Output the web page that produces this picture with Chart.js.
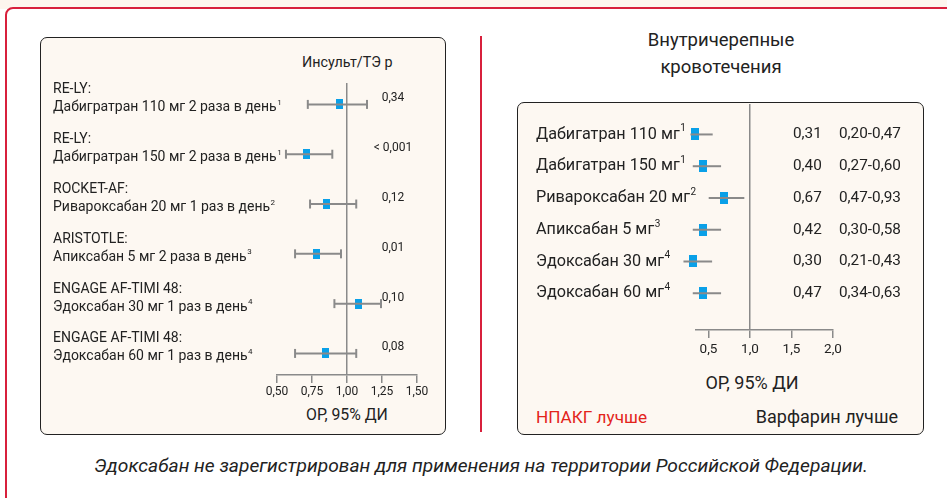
<!DOCTYPE html>
<html><head><meta charset="utf-8">
<script src="https://cdn.jsdelivr.net/npm/chart.js@4.4.1/dist/chart.umd.min.js"></script>
<style>
html,body{margin:0;padding:0;}
body{width:947px;height:498px;position:relative;overflow:hidden;background:#fff;font-family:Roboto,"Liberation Sans",sans-serif;color:#222;}
.abs{position:absolute;}
.strip{left:0;top:0;width:947px;height:9px;background:#fdf6ee;}
.frame{left:5px;top:7px;width:980px;height:540px;border:2px solid #d8203c;border-radius:8px;background:#fff;box-sizing:border-box;}
.box{border:1.6px solid #222;border-radius:7px;background:#fdf8f2;box-sizing:border-box;}
.t{white-space:nowrap;line-height:20px;height:20px;}
canvas{position:absolute;left:0;top:0;}
</style></head>
<body>
<div class="abs strip"></div>
<div class="abs frame"></div>
<div class="abs box" style="left:40px;top:37px;width:406px;height:398px;"></div>
<div class="abs" style="left:480px;top:36px;width:2px;height:396px;background:#d8203c;"></div>
<div class="abs box" style="left:517px;top:102px;width:407px;height:333px;"></div>
<div class="abs t" style="left:621px;width:200px;top:30px;text-align:center;font-size:18.5px;">Внутричерепные</div>
<div class="abs t" style="left:621px;width:200px;top:57px;text-align:center;font-size:18.5px;">кровотечения</div>
<div class="abs t" style="left:302px;top:52px;font-size:14.3px;">Инсульт/ТЭ р</div>
<div class="abs t" style="left:247px;width:200px;top:405px;text-align:center;font-size:15.8px;">ОР, 95% ДИ</div>
<div class="abs t" style="left:652px;width:200px;top:373px;text-align:center;font-size:18px;">ОР, 95% ДИ</div>
<div class="abs t" style="left:536px;top:407px;font-size:17.2px;color:#e3241b;">НПАКГ лучше</div>
<div class="abs t" style="left:698px;width:200px;top:407px;text-align:right;font-size:18px;">Варфарин лучше</div>
<div class="abs t" style="left:0;width:962px;top:456px;text-align:center;font-size:19.2px;font-style:italic;">Эдоксабан не зарегистрирован для применения на территории Российской Федерации.</div>
<canvas id="cl" width="947" height="498"></canvas>
<canvas id="cr" width="947" height="498"></canvas>
<script>
// ---------- Data: left panel (stroke / systemic embolism) ----------
const leftStudies = ['RE-LY:', 'RE-LY:', 'ROCKET-AF:', 'ARISTOTLE:', 'ENGAGE AF-TIMI 48:', 'ENGAGE AF-TIMI 48:'];
const leftDrugs = ['Дабигратран 110 мг 2 раза в день', 'Дабигратран 150 мг 2 раза в день', 'Ривароксабан 20 мг 1 раз в день', 'Апиксабан 5 мг 2 раза в день', 'Эдоксабан 30 мг 1 раз в день', 'Эдоксабан 60 мг 1 раз в день'];
const leftRefs = ['1', '1', '2', '3', '4', '4'];
const leftEst = [0.945, 0.71, 0.852, 0.78, 1.08, 0.845];
const leftLo = [0.72, 0.564, 0.736, 0.629, 0.91, 0.629];
const leftHi = [1.143, 0.895, 1.066, 0.957, 1.243, 1.066];
const leftP = ['0,34', '< 0,001', '0,12', '0,01', '0,10', '0,08'];
const leftTicks = [0.5, 0.75, 1.0, 1.25, 1.5];
const leftTickLabels = ['0,50', '0,75', '1,00', '1,25', '1,50'];

// ---------- Data: right panel (intracranial bleeding) ----------
const rightDrugs = ['Дабигатран 110 мг', 'Дабигатран 150 мг', 'Ривароксабан 20 мг', 'Апиксабан 5 мг', 'Эдоксабан 30 мг', 'Эдоксабан 60 мг'];
const rightRefs = ['1', '1', '2', '3', '4', '4'];
const rightEst = [0.335, 0.439, 0.691, 0.439, 0.316, 0.439];
const rightLo = [0.283, 0.311, 0.503, 0.311, 0.199, 0.311];
const rightHi = [0.551, 0.652, 0.932, 0.652, 0.544, 0.652];
const rightOR = ['0,31', '0,40', '0,67', '0,42', '0,30', '0,47'];
const rightCI = ['0,20-0,47', '0,27-0,60', '0,47-0,93', '0,30-0,58', '0,21-0,43', '0,34-0,63'];
const rightTicks = [0.5, 1.0, 1.5, 2.0];
const rightTickLabels = ['0,5', '1,0', '1,5', '2,0'];

const FONT = 'Roboto';
const GRAY = '#8a8a8a';
const BLUE = '#0aa0e8';
const TXT = '#222';

function rectImg(w, h) {
  const c = document.createElement('canvas');
  c.width = w; c.height = h;
  const g = c.getContext('2d');
  g.fillStyle = BLUE; g.fillRect(0, 0, w, h);
  return c;
}

function buildDatasets(est, lo, hi, caps, img) {
  const ds = [];
  est.forEach((e, i) => {
    ds.push({ type: 'line', data: [{ x: lo[i], y: i }, { x: hi[i], y: i }], borderColor: GRAY, borderWidth: 2,
      pointRadius: 0, showLine: true, clip: false });
  });
  if (caps) {
    const cp = [];
    est.forEach((e, i) => { cp.push({ x: lo[i], y: i }); cp.push({ x: hi[i], y: i }); });
    ds.push({ type: 'scatter', data: cp, pointStyle: 'line', rotation: 90, pointRadius: 4.5,
      borderColor: GRAY, borderWidth: 2, backgroundColor: GRAY, clip: false });
  }
  ds.push({ type: 'scatter', data: est.map((e, i) => ({ x: e, y: i })), pointStyle: img, pointRadius: 5, clip: false });
  return ds;
}

function xScale(min, max, ticks, labels, fontSize, pad) {
  return {
    type: 'linear', min: min, max: max,
    afterBuildTicks: s => { s.ticks = ticks.map(v => ({ value: v })); },
    afterFit: s => { s.height = 40; },
    ticks: { callback: (v, i) => labels[i], font: { family: FONT, size: fontSize }, color: TXT, padding: pad,
      maxRotation: 0, autoSkip: false },
    grid: { color: c => (c.tick && c.tick.value === 1) ? GRAY : 'rgba(0,0,0,0)', tickColor: GRAY,
      tickLength: 8, lineWidth: 1.5, drawOnChartArea: true, drawTicks: true },
    border: { display: true, color: GRAY, width: 1.5 }
  };
}

function drawSup(ctx, text, sup, x, y, size, supSize) {
  ctx.font = size + 'px ' + FONT;
  ctx.fillText(text, x, y);
  const w = ctx.measureText(text).width;
  ctx.font = supSize + 'px ' + FONT;
  ctx.fillText(sup, x + w + 0.5, y - size * 0.35);
}

const leftText = {
  id: 'leftText',
  afterDraw(chart) {
    const ctx = chart.ctx, ys = chart.scales.y;
    ctx.save();
    ctx.fillStyle = TXT; ctx.textBaseline = 'middle'; ctx.textAlign = 'left';
    leftStudies.forEach((s, i) => {
      const y = ys.getPixelForValue(i);
      ctx.font = '14px ' + FONT;
      ctx.fillText(s, 53, y - 14.5);
      drawSup(ctx, leftDrugs[i], leftRefs[i], 53, y + 3.5, 14, 8);
      ctx.font = '12px ' + FONT;
      ctx.textAlign = 'center';
      ctx.fillText(leftP[i], 393, y - 6);
      ctx.textAlign = 'left';
    });
    ctx.restore();
  }
};

const rightText = {
  id: 'rightText',
  afterDraw(chart) {
    const ctx = chart.ctx, ys = chart.scales.y;
    ctx.save();
    ctx.fillStyle = TXT; ctx.textBaseline = 'middle'; ctx.textAlign = 'left';
    rightDrugs.forEach((s, i) => {
      const y = ys.getPixelForValue(i);
      drawSup(ctx, s, rightRefs[i], 536, y, 16.2, 10);
      ctx.font = '15.3px ' + FONT;
      ctx.fillText(rightOR[i], 793, y);
      ctx.fillText(rightCI[i], 839, y);
    });
    ctx.restore();
  }
};

const common = {
  responsive: false, animation: false, events: [],
  plugins: { legend: { display: false }, tooltip: { enabled: false } }
};

new Chart(document.getElementById('cl'), {
  type: 'scatter',
  data: { datasets: buildDatasets(leftEst, leftLo, leftHi, true, rectImg(7, 10)) },
  options: Object.assign({}, common, {
    layout: { padding: { left: 277, right: 530, top: 83, bottom: 83 } },
    scales: {
      x: xScale(0.5, 1.5, leftTicks, leftTickLabels, 12, 2),
      y: { type: 'linear', display: false, reverse: true, min: -0.43, max: 5.433 }
    }
  }),
  plugins: [leftText]
});

new Chart(document.getElementById('cr'), {
  type: 'scatter',
  data: { datasets: buildDatasets(rightEst, rightLo, rightHi, false, rectImg(8, 12)) },
  options: Object.assign({}, common, {
    layout: { padding: { left: 696, right: 114, top: 104, bottom: 128 } },
    scales: {
      x: xScale(0.35, 2.0, rightTicks, rightTickLabels, 13.5, 4),
      y: { type: 'linear', display: false, reverse: true, min: -0.959, max: 6.157 }
    }
  }),
  plugins: [rightText]
});
</script>
</body></html>
